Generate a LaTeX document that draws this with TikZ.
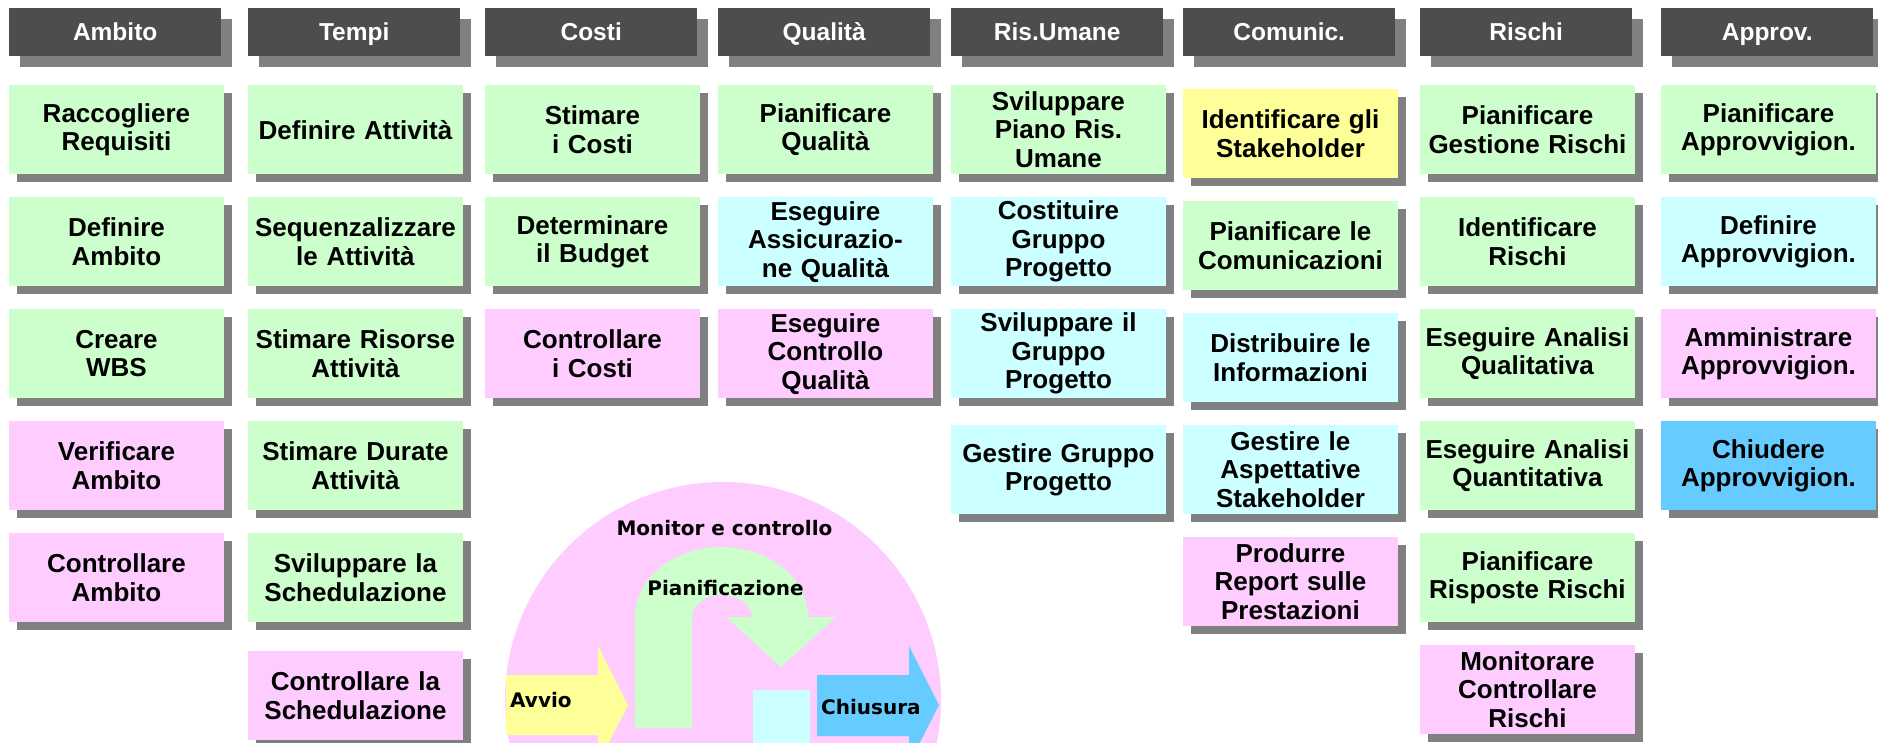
\documentclass[tikz,border=0pt]{standalone}
\usepackage{fontspec}
\setmainfont{Liberation Sans}
\newfontfamily\circfont{DejaVu Sans}
\usetikzlibrary{shadows}

\definecolor{headgray}{HTML}{4D4D4D}
\definecolor{shadowgray}{HTML}{808080}
\definecolor{taskgreen}{HTML}{CCFFCC}
\definecolor{taskpink}{HTML}{FFCCFF}
\definecolor{taskcyan}{HTML}{CCFFFF}
\definecolor{taskyellow}{HTML}{FFFF99}
\definecolor{taskblue}{HTML}{66CCFF}

\tikzset{
	header/.style={fill=headgray, text=white, minimum width=212pt, minimum height=48pt, inner sep=0pt, anchor=north west,
		text height=21pt, text depth=4pt, font=\bfseries\fontsize{24.5}{28}\selectfont,
		general shadow={fill=shadowgray, shadow xshift=11pt, shadow yshift=-11pt}},
	task/.style={fill=#1, text width=210.5pt, inner xsep=2pt, inner ysep=0pt, minimum height=89pt, align=center, anchor=north west,
		font=\bfseries\fontsize{26}{28.5}\selectfont,
		general shadow={fill=shadowgray, shadow xshift=8pt, shadow yshift=-8pt}},
	phase/.style={inner sep=0pt, font=\circfont\bfseries\fontsize{20}{22}\selectfont}
}

\begin{document}
\begin{tikzpicture}[x=1pt, y=-1pt]
		\useasboundingbox (0,0) rectangle (1878,743);
		\clip (0,0) rectangle (1878,743);
		% column headers
		\foreach \nm/\px/\txt in {ambito/9/Ambito, tempi/248/Tempi, costi/485/Costi, qualita/718/Qualità, risorse/951/Ris.Umane, comunic/1183/Comunic., rischi/1420/Rischi, approv/1661/Approv.}
			\node[header] (h-\nm) at (\px,8) {\txt};
		% Ambito
		\node[task=taskgreen] (amb1) at (9,85) {Raccogliere\\Requisiti};
		\node[task=taskgreen] (amb2) at (9,197) {Definire\\Ambito};
		\node[task=taskgreen] (amb3) at (9,309) {Creare\\WBS};
		\node[task=taskpink] (amb4) at (9,421) {Verificare\\Ambito};
		\node[task=taskpink] (amb5) at (9,533) {Controllare\\Ambito};
		% Tempi
		\node[task=taskgreen] (tem1) at (248,85) {Definire Attività};
		\node[task=taskgreen] (tem2) at (248,197) {Sequenzalizzare\\le Attività};
		\node[task=taskgreen] (tem3) at (248,309) {Stimare Risorse\\Attività};
		\node[task=taskgreen] (tem4) at (248,421) {Stimare Durate\\Attività};
		\node[task=taskgreen] (tem5) at (248,533) {Sviluppare la\\Schedulazione};
		\node[task=taskpink] (tem6) at (248,651) {Controllare la\\Schedulazione};
		% Costi
		\node[task=taskgreen] (cos1) at (485,85) {Stimare\\i Costi};
		\node[task=taskgreen] (cos2) at (485,197) {Determinare\\il Budget};
		\node[task=taskpink] (cos3) at (485,309) {Controllare\\i Costi};
		% Qualita
		\node[task=taskgreen] (qua1) at (718,85) {Pianificare\\Qualità};
		\node[task=taskcyan] (qua2) at (718,197) {Eseguire\\Assicurazio-\\ne Qualità};
		\node[task=taskpink] (qua3) at (718,309) {Eseguire\\Controllo\\Qualità};
		% Risorse umane
		\node[task=taskgreen] (ris1) at (951,85) {Sviluppare\\Piano Ris.\\Umane};
		\node[task=taskcyan] (ris2) at (951,197) {Costituire\\Gruppo\\Progetto};
		\node[task=taskcyan] (ris3) at (951,309) {Sviluppare il\\Gruppo\\Progetto};
		\node[task=taskcyan] (ris4) at (951,425) {Gestire Gruppo\\Progetto};
		% Comunicazioni
		\node[task=taskyellow] (com1) at (1183,89) {Identificare gli\\Stakeholder};
		\node[task=taskgreen] (com2) at (1183,201) {Pianificare le\\Comunicazioni};
		\node[task=taskcyan] (com3) at (1183,313) {Distribuire le\\Informazioni};
		\node[task=taskcyan] (com4) at (1183,425) {Gestire le\\Aspettative\\Stakeholder};
		\node[task=taskpink] (com5) at (1183,537) {Produrre\\Report sulle\\Prestazioni};
		% Rischi
		\node[task=taskgreen] (rsk1) at (1420,85) {Pianificare\\Gestione Rischi};
		\node[task=taskgreen] (rsk2) at (1420,197) {Identificare\\Rischi};
		\node[task=taskgreen] (rsk3) at (1420,309) {Eseguire Analisi\\Qualitativa};
		\node[task=taskgreen] (rsk4) at (1420,421) {Eseguire Analisi\\Quantitativa};
		\node[task=taskgreen] (rsk5) at (1420,533) {Pianificare\\Risposte Rischi};
		\node[task=taskpink] (rsk6) at (1420,645) {Monitorare\\Controllare\\Rischi};
		% Approvvigionamenti
		\node[task=taskgreen] (app1) at (1661,85) {Pianificare\\Approvvigion.};
		\node[task=taskcyan] (app2) at (1661,197) {Definire\\Approvvigion.};
		\node[task=taskpink] (app3) at (1661,309) {Amministrare\\Approvvigion.};
		\node[task=taskblue] (app4) at (1661,421) {Chiudere\\Approvvigion.};
		% process groups
		\fill[taskpink] (723,700) circle [radius=218];
		\fill[taskyellow] (506,675) -- (598,675) -- (598,646) -- (628,705) -- (598,764) -- (598,735) -- (506,735) -- cycle;
		\fill[taskgreen] (635,728) -- (635,617) arc[start angle=180, end angle=360, x radius=86.5, y radius=70]
			-- (836,617) -- (781,667) -- (726,617) -- (752,617)
			arc[start angle=360, end angle=180, x radius=30, y radius=22] -- (692,728) -- cycle;
		\fill[taskcyan] (753,690) rectangle (810,760);
		\fill[taskblue] (817,675) -- (909,675) -- (909,646) -- (939,705) -- (909,764) -- (909,736) -- (817,736) -- cycle;
		\node[phase, anchor=base] (monitor) at (724.5,535) {Monitor e controllo};
		\node[phase, anchor=base] (plan) at (725.5,595) {Pianificazione};
		\node[phase, anchor=base west] (start) at (510,707) {Avvio};
		\node[phase, anchor=base west] (close) at (821,714) {Chiusura};
	\end{tikzpicture}
\end{document}
